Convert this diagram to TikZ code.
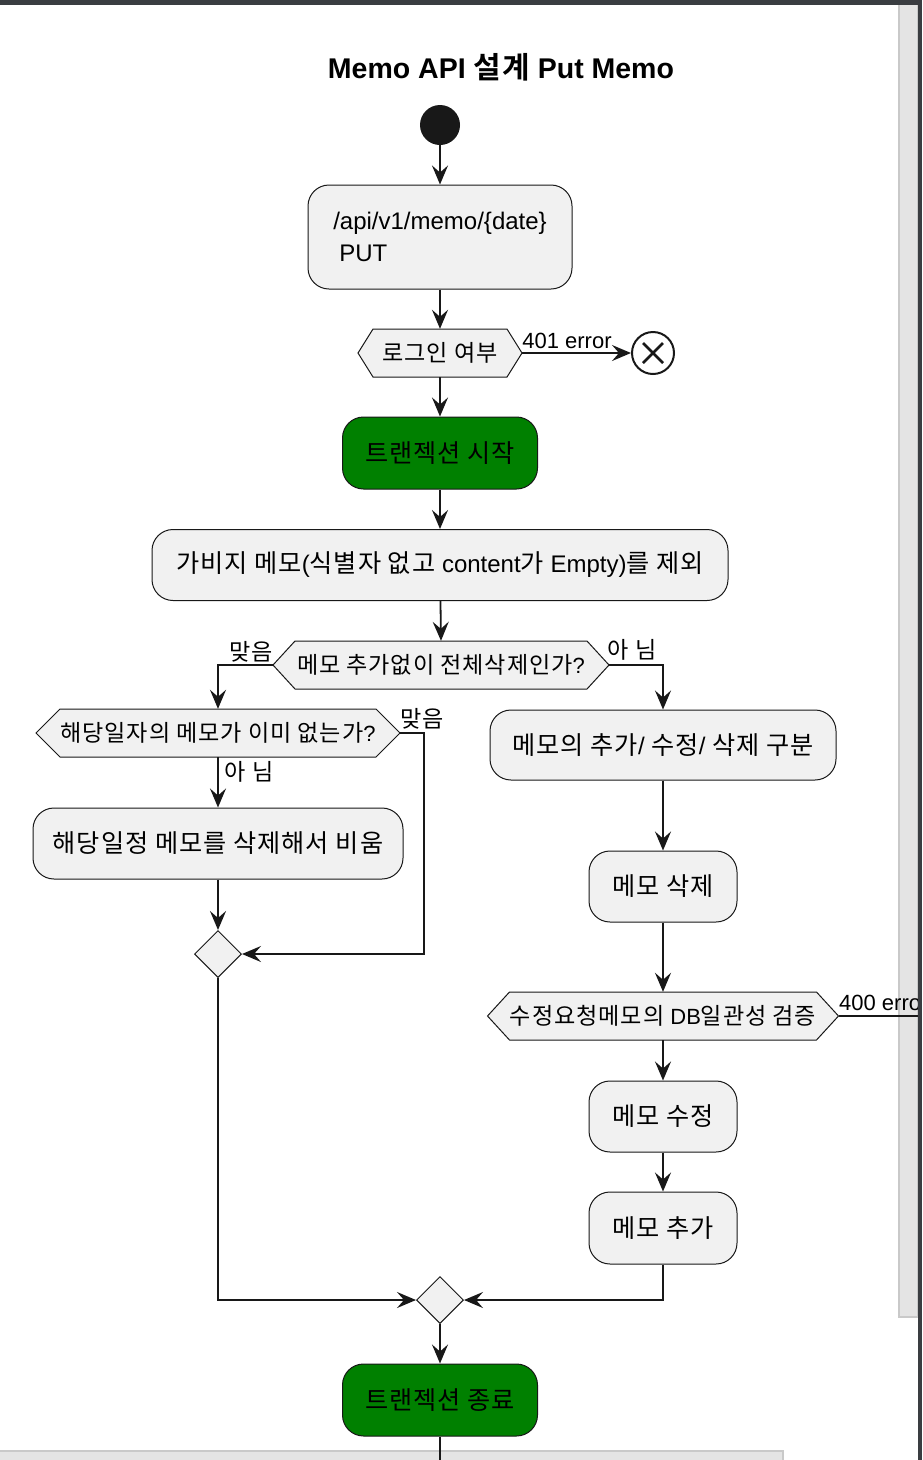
\documentclass[tikz,border=0pt]{standalone}
\usepackage{fontspec}
\setmainfont{Liberation Sans}
\newfontfamily\ko{Noto Sans CJK KR}[BoldFont={Noto Sans CJK KR Bold}, Scale=1.05, LetterSpace=4]
\usetikzlibrary{arrows.meta,calc,shapes.geometric}
\definecolor{ink}{HTML}{181818}
\definecolor{boxfill}{HTML}{F1F1F1}
\definecolor{grn}{HTML}{008000}
\definecolor{barDark}{HTML}{3A3D41}
\definecolor{barLight}{HTML}{E4E4E4}
\definecolor{barEdge}{HTML}{C9C9C9}
\tikzset{
  flow/.style={draw=ink, line width=1.8pt, -{Stealth[length=19pt,width=16pt,inset=7pt]}},
  plain/.style={draw=ink, line width=1.8pt},
  act/.style={draw=ink, fill=boxfill, line width=1pt, rounded corners=21pt, inner sep=0pt,
    font=\fontsize{24}{32}\selectfont, text=black},
  greenact/.style={act, fill=grn},
  hexline/.style={draw=ink, fill=boxfill, line width=1pt},
  hexbox/.style={inner sep=0pt, minimum height=48pt, font=\fontsize{22}{26}\selectfont, text=black},
  lbl/.style={font=\fontsize{22}{26}\selectfont, inner sep=0pt, text=black},
  merge/.style={diamond, draw=ink, fill=boxfill, line width=1pt, minimum width=47pt,
    minimum height=47pt, inner sep=0pt},
}
\newcommand\hexnode[6]{%
  \draw[hexline] ({#2-#4},#3) -- ({#2-#4+#5},{#3-24}) -- ({#2+#4-#5},{#3-24}) -- ({#2+#4},#3)
    -- ({#2+#4-#5},{#3+24}) -- ({#2-#4+#5},{#3+24}) -- cycle;
  \node[hexbox, minimum width={2*#4}] (#1) at (#2,#3) {#6};}
\begin{document}
\begin{tikzpicture}[x=1pt,y=-1pt]
\useasboundingbox (0,0) rectangle (922,1460);
\fill[white] (0,0) rectangle (922,1460);
% browser overlays (below diagram)
\filldraw[fill=barLight, draw=barEdge, line width=2pt] (899,4) rectangle (918,1317);
\filldraw[fill=barLight, draw=barEdge, line width=2pt] (-2,1451) rectangle (783,1470);

% title
\node[font=\fontsize{28.5}{32}\selectfont\bfseries, text=black] (title) at (501,67)
  {Memo API {\ko 설계} Put Memo};

% nodes
\node[circle, fill=ink, minimum size=40pt, inner sep=0pt] (start) at (440,125) {};
\node[act, minimum width=264pt, minimum height=104pt, align=left] (b1) at (440,237)
  {/api/v1/memo/\{date\}\\\hspace*{6pt}PUT};
\hexnode{h1}{440}{353}{82}{15}{\ko 로그인 여부}
\node[circle, draw=ink, fill=white, line width=2pt, minimum size=42pt, inner sep=0pt] (stop) at (653,353) {};
\draw[ink, line width=2.6pt] ($(stop.center)+(-10,-10)$) -- ($(stop.center)+(10,10)$)
  ($(stop.center)+(-10,10)$) -- ($(stop.center)+(10,-10)$);
\node[greenact, minimum width=195pt, minimum height=72pt] (g1) at (440,453) {\ko 트랜젝션 시작};
\node[act, minimum width=576pt, minimum height=71pt] (b2) at (440,565)
  {{\ko 가비지 메모}({\ko 식별자 없고} content{\ko 가} Empty){\ko 를 제외}};
\hexnode{h2}{441}{665}{168}{22}{{\ko 메모 추가없이 전체삭제인가}?}
\hexnode{h3}{218}{733}{182}{24}{{\ko 해당일자의 메모가 이미 없는가}?}
\node[act, minimum width=370pt, minimum height=71pt] (b3) at (218,843.5) {\ko 해당일정 메모를 삭제해서 비움};
\node[merge] (m1) at (218,954) {};
\node[act, minimum width=346pt, minimum height=70pt] (b4) at (663,745)
  {{\ko 메모의 추가}/ {\ko 수정}/ {\ko 삭제 구분}};
\node[act, minimum width=148pt, minimum height=71pt] (b5) at (663,886.5) {\ko 메모 삭제};
\hexnode{h4}{663}{1016}{175.5}{22}{{\ko 수정요청메모의} DB{\ko 일관성 검증}}
\node[act, minimum width=148pt, minimum height=71pt] (b6) at (663,1116.5) {\ko 메모 수정};
\node[act, minimum width=148pt, minimum height=72pt] (b7) at (663,1228) {\ko 메모 추가};
\node[merge] (m2) at (440,1300) {};
\node[greenact, minimum width=195pt, minimum height=72pt] (g2) at (440,1400) {\ko 트랜젝션 종료};
\coordinate (bottomend) at (440,1462);
\coordinate (rightend) at (930,1016);

% connectors
\draw[flow] (start) -- (b1);
\draw[flow] (b1) -- (h1.north);
\draw[flow] (h1.east) -- (stop.west);
\node[lbl] (l401) at (567,341) {401 error};
\draw[flow] (h1.south) -- (g1);
\draw[flow] (g1) -- (b2);
\draw[flow] (b2) -- (h2.north);
\draw[flow] (h2.west) -| (h3.north);
\node[lbl] (lyes1) at (251,652) {\ko 맞음};
\draw[flow] (h2.east) -| (b4.north);
\node[lbl] (lno1) at (632,650) {\ko 아 님};
\draw[flow] (h3.east) -- ++(24,0) |- (m1.east);
\node[lbl] (lyes2) at (422,719) {\ko 맞음};
\draw[flow] (h3.south) -- (b3.north);
\node[lbl] (lno2) at (249,772) {\ko 아 님};
\draw[flow] (b3) -- (m1.north);
\draw[flow] (m1.south) |- (m2.west);
\draw[flow] (b4) -- (b5);
\draw[flow] (b5) -- (h4.north);
\draw[flow] (h4.south) -- (b6);
\draw[flow] (b6) -- (b7);
\draw[flow] (b7.south) |- (m2.east);
\draw[flow] (m2.south) -- (g2.north);
\draw[plain] (g2.south) -- (bottomend);
\begin{scope}
\clip (0,0) rectangle (918,1460);
\draw[plain] (h4.east) -- (rightend);
\node[lbl, anchor=west] (l400) at (839,1003) {400 error};
\end{scope}

% browser frame on top
\fill[barDark] (0,0) rectangle (922,5);
\fill[barDark] (918,0) rectangle (922,1460);
\end{tikzpicture}
\end{document}
